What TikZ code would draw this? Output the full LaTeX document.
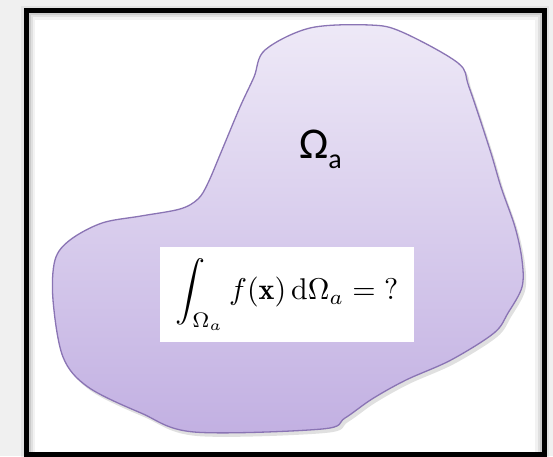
\documentclass[tikz,border=0pt]{standalone}
\usepackage{amsmath}
\usepackage{fontspec}
\newfontfamily\calib{Carlito}
\usetikzlibrary{calc,positioning}
\definecolor{page}{HTML}{F0F0F0}
\definecolor{blobtop}{HTML}{EEE9F7}
\definecolor{blobbot}{HTML}{C2B0E2}
\definecolor{blobline}{HTML}{8A74B4}

\begin{document}
\begin{tikzpicture}[x=1pt,y=-1pt]
\useasboundingbox (0,0) rectangle (553,456);
\fill[page] (0,0) rectangle (553,456);
\fill[white] (26,10.5) rectangle (544,454);
% inner shadow of the frame
\foreach \w/\o in {14/0.05,9/0.07,5/0.09} {\draw[black,opacity=\o,line width=\w] (28,460) -- (28,12.5) -- (542,12.5) -- (542,460);}
\draw[black,line width=5] (26,10.5) rectangle (544,454);
% region
\def\blobpath{plot[smooth cycle,tension=0.55] coordinates {(254,77) (265,50) (310,28) (370,25) (402,32) (458,63) (469,87) (490,150) (501,187) (515,227) (522,260) (522,287) (508,313) (494,333) (451,360) (406,380) (372,399) (345,418) (322,429) (194,432) (141,413) (88,387) (63,357) (53,300) (55,260) (70,240) (102,223) (141,216) (180,209) (198,199) (208,183) (222,150) (240,107)}}
\fill[black,opacity=0.12,shift={(3,4)}] \blobpath;
\shade[top color=blobtop,bottom color=blobbot,draw=blobline,line width=1.3] \blobpath;
\node[anchor=base west,inner sep=0pt] (omega) at (299,158) {\calib\fontsize{44}{50}\selectfont Ω\raisebox{-10pt}{\fontsize{28}{30}\selectfont a}};
\node[fill=white,minimum width=254pt,minimum height=95pt,inner sep=0pt] (integral) at (287,294.5) {\scalebox{3}{$\displaystyle\int_{\Omega_a} f(\mathbf{x})\,\mathrm{d}\Omega_a = {?}$}};
\end{tikzpicture}
\end{document}
